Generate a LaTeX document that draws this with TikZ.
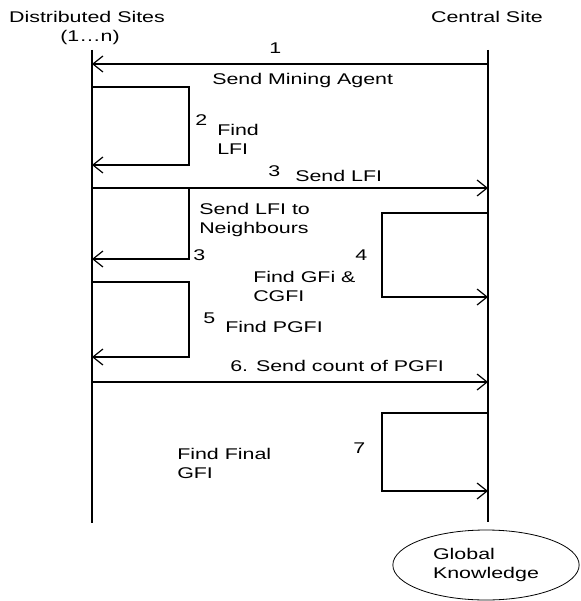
\documentclass[tikz,border=0pt]{standalone}
\usepackage{fontspec}
\setmainfont{Liberation Sans}
\usepackage{tikz}
\usetikzlibrary{shapes.geometric,arrows.meta,positioning}

\begin{document}
\begin{tikzpicture}[
    x=1pt, y=-1pt,
    font=\fontsize{15.5}{19}\selectfont,
    txt/.style={inner sep=0pt, anchor=west, align=left, xscale=1.38},
    title/.style={inner sep=0pt, xscale=1.38},
    life/.style={line width=1.3pt},
    msg/.style={-{Straight Barb[length=10pt,width=16pt]}, line width=1.2pt}
]
\useasboundingbox (0,0) rectangle (580,601);

% sites
\node[title] (dsite) at (87,17) {Distributed Sites};
\node[title] (drange) at (90,37) {(1…n)};
\node[title] (csite) at (487,17) {Central Site};

\coordinate (dtop) at (92,50);
\coordinate (dbot) at (92,523);
\coordinate (ctop) at (488,50);
\coordinate (cbot) at (488,522);
\draw[life] (dtop) -- (dbot);
\draw[life] (ctop) -- (cbot);

% points on the lifelines
\coordinate (c1) at (488,64);   \coordinate (d1) at (92,64);
\coordinate (d2) at (92,87);    \coordinate (d2b) at (92,165);
\coordinate (d3) at (92,188);   \coordinate (c3) at (488,188);
\coordinate (d3b) at (92,259);
\coordinate (c4) at (488,213);  \coordinate (c4b) at (488,297);
\coordinate (d5) at (92,282);   \coordinate (d5b) at (92,357);
\coordinate (d6) at (92,382);   \coordinate (c6) at (488,382);
\coordinate (c7) at (488,413);  \coordinate (c7b) at (488,491);

% turning points of the loops
\coordinate (k2) at (189,126);
\coordinate (k3) at (189,223);
\coordinate (k4) at (382,255);
\coordinate (k5) at (189,320);
\coordinate (k7) at (382,452);

% messages
\draw[msg] (c1) -- (d1);
\draw[msg] (d2) -| (k2) |- (d2b);
\draw[msg] (d3) -- (c3);
\draw[msg] (d3) -| (k3) |- (d3b);
\draw[msg] (c4) -| (k4) |- (c4b);
\draw[msg] (d5) -| (k5) |- (d5b);
\draw[msg] (d6) -- (c6);
\draw[msg] (c7) -| (k7) |- (c7b);

% labels
\node[txt] (n1) at (269,48) {1};
\node[txt] (t1) at (212,80) {Send Mining Agent};
\node[txt] (n2) at (195,120) {2};
\node[txt] (t2) at (217,139.5) {Find\\LFI};
\node[txt] (n3) at (268,171) {3};
\node[txt] (t3) at (295,176) {Send LFI};
\node[txt] (t3b) at (199,220) {Send LFI to\\Neighbours};
\node[txt] (n3b) at (193,255) {3};
\node[txt] (n4) at (355,255) {4};
\node[txt] (t4) at (253,286.5) {Find GFi \&\\CGFI};
\node[txt] (n5) at (203,318) {5};
\node[txt] (t5) at (225,327) {Find PGFI};
\node[txt] (t6) at (230,366) {6. Send count of PGFI};
\node[txt] (n7) at (353,448) {7};
\node[txt] (t7) at (177,463.5) {Find Final\\GFI};

% result
\node[ellipse, draw, line width=0.8pt, align=left, inner sep=0pt,
      minimum width=135pt, minimum height=70pt, xscale=1.38] (gk) at (486,565) {Global\\Knowledge};
\end{tikzpicture}
\end{document}
